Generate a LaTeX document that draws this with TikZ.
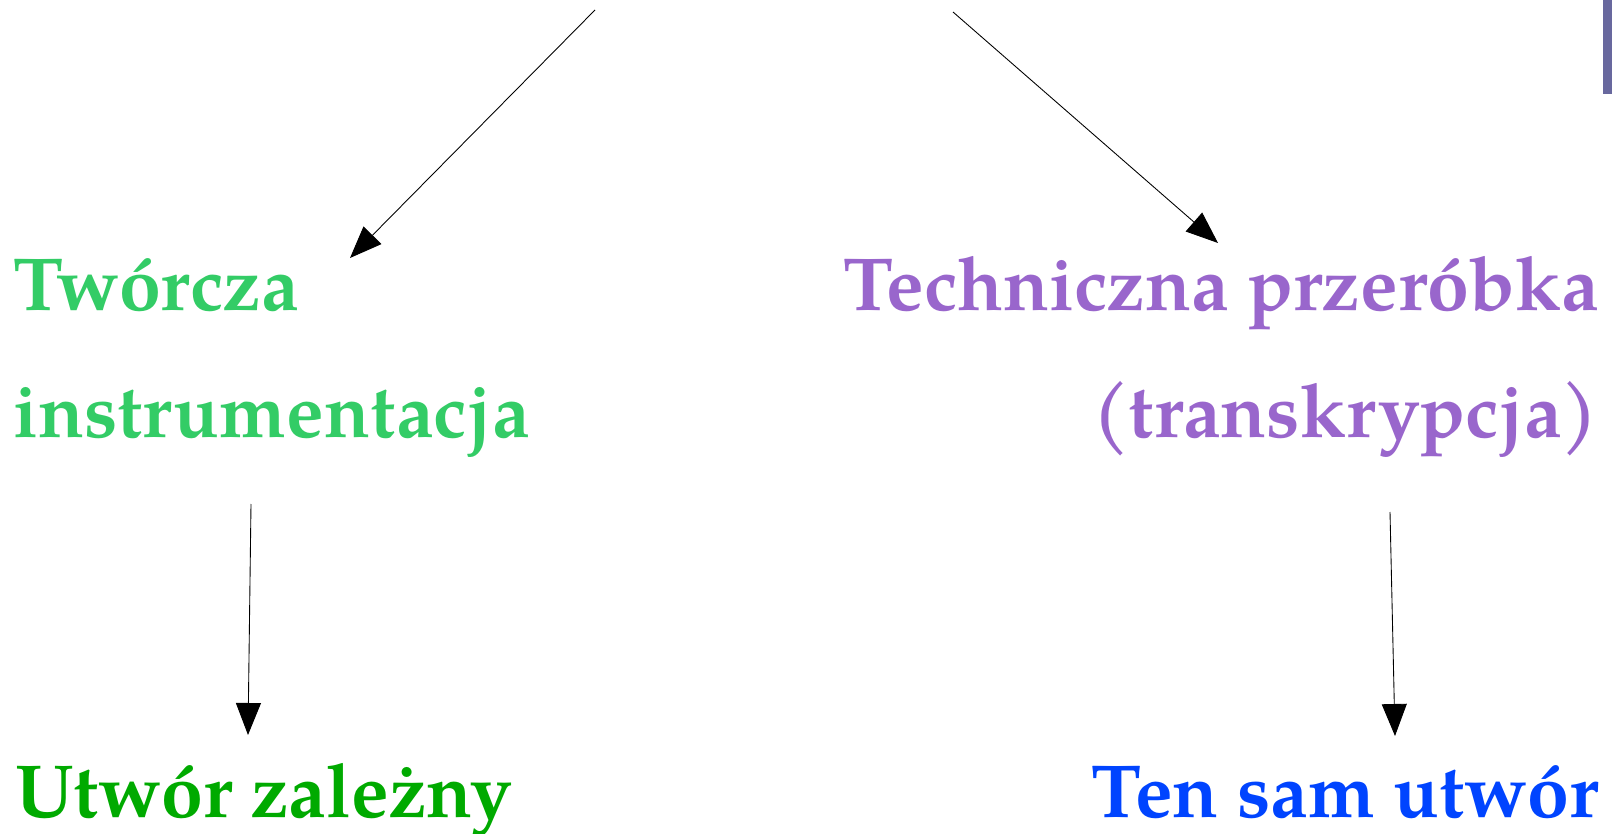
\documentclass[tikz,border=0pt]{standalone}
\usepackage{fontspec}
\setmainfont{TeX Gyre Pagella}
\usetikzlibrary{arrows.meta}
\definecolor{zieleń}{RGB}{51,204,102}
\definecolor{ciemnazieleń}{RGB}{0,170,0}
\definecolor{fiolet}{RGB}{153,102,204}
\definecolor{niebieski}{RGB}{0,68,255}
\definecolor{pasek}{RGB}{104,104,158}
\begin{document}
\begin{tikzpicture}[x=0.02cm,y=-0.02cm]
    \tikzset{napis/.style={inner sep=0pt,font=\fontsize{42.8}{50}\selectfont\bfseries},
        lewy/.style={napis,anchor=base west},prawy/.style={napis,anchor=base east},
        strz/.style={->,>={Triangle[length=6.4mm,width=5mm]},line width=0.5pt}}
    \useasboundingbox (0,0) rectangle (1612,834);
    \fill[pasek] (1603,0) rectangle (1612,94);

    \node[lewy,text=zieleń] (tworcza) at (13,311) {Twórcza};
    \node[lewy,text=zieleń] (instr) at (13,437) {instrumentacja};
    \node[prawy,text=fiolet] (techn) at (1599,311) {Techniczna przeróbka};
    \node[prawy,text=fiolet] (transk) at (1599,437) {(transkrypcja)};
    \node[lewy,text=ciemnazieleń] (zalezny) at (15,817) {Utwór zależny};
    \node[prawy,text=niebieski] (tensam) at (1599,817) {Ten sam utwór};

    \coordinate (gora1) at (595,10); \coordinate (cel1) at (350,258);
    \coordinate (gora2) at (953,12); \coordinate (cel2) at (1218,243);
    \coordinate (dol1) at (251,504); \coordinate (cel3) at (248,735);
    \coordinate (dol2) at (1390,512); \coordinate (cel4) at (1395,736);

    \draw[strz] (gora1) -- (cel1);
    \draw[strz] (gora2) -- (cel2);
    \draw[strz] (dol1) -- (cel3);
    \draw[strz] (dol2) -- (cel4);
\end{tikzpicture}
\end{document}
